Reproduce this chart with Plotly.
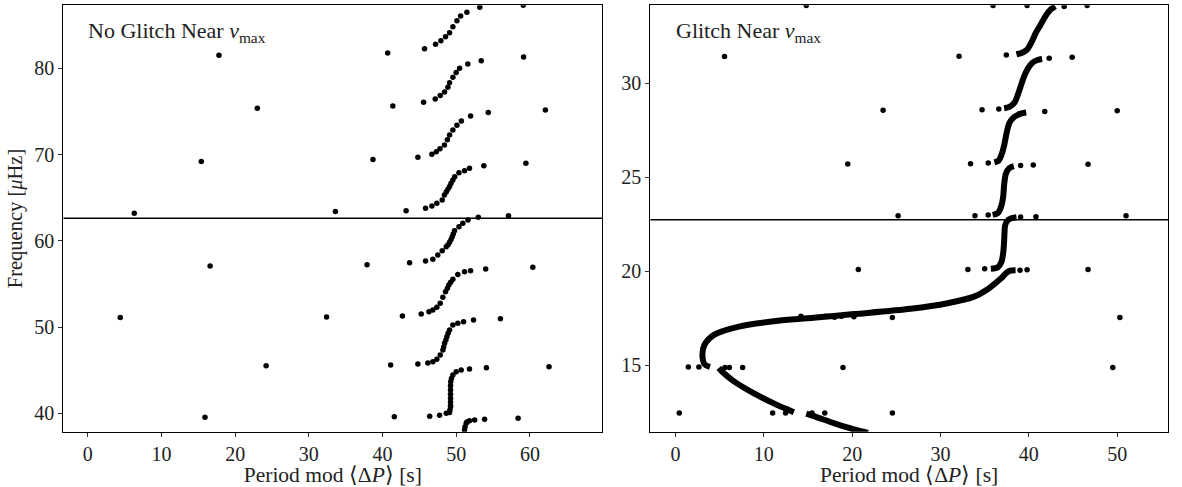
import plotly.graph_objects as go

# ---------------- data: left panel (No glitch) ----------------
left_x = [
    # row ~87 / 81.5
    59.1, 53.2, 51.45, 50.6, 50.1, 49.55, 49.1, 48.55, 47.92, 47.2, 45.7, 40.7, 17.8, 59.14,
    # segment 75.5 -> 81
    53.4, 51.58, 50.46, 50.0, 49.55, 49.1, 48.87, 48.42, 47.83, 47.15, 45.57, 41.4, 23.0, 62.1,
    # segment 69.7 -> 74.8
    54.35, 51.95, 50.7, 50.1, 49.55, 49.1, 48.8, 48.4, 47.8, 47.3, 46.7, 44.8, 38.7, 15.4, 59.46,
    # segment 63.5 -> 68.7
    53.75, 51.8, 51.13, 50.37, 49.8, 49.55, 49.3, 49.1, 48.87, 48.65, 48.4, 48.1, 47.37, 46.7, 45.84, 43.2, 33.6, 6.3,
    57.1, 53.0,
    # segment 57.5 -> 62.4
    51.6, 50.9, 50.37, 49.77, 49.6, 49.46, 49.3, 49.1, 48.9, 48.65, 48.1, 47.5, 46.83, 45.84, 43.67, 37.9, 16.6, 60.4,
    # segment 51.5 -> 56.7
    54.0, 51.95, 51.13, 50.22, 49.55, 49.25, 49.0, 48.8, 48.55, 48.19, 47.83, 47.37, 46.83, 46.3, 45.25, 42.7, 32.4, 4.4, 56.0,
    # segment 45.7 -> 50.8
    52.35, 51.0, 50.22, 49.55, 49.1, 48.9, 48.73, 48.6, 48.42, 48.3, 48.19, 47.83, 47.37, 46.83, 46.15, 44.8, 41.1, 24.2, 62.6, 54.1,
    # segment 39.7 -> 45.1
    51.8, 50.68, 50.0, 49.55, 49.35, 49.25, 49.23, 49.23, 49.23, 49.23, 49.23, 49.23, 49.23, 49.15, 49.1, 48.65, 47.74, 46.4, 41.6, 15.9,
    52.5, 53.85, 58.4,
    # bottom segment
    51.8, 51.45, 51.36, 51.2, 51.13,
]
left_y = [
    87.3, 87.07, 86.5, 86.06, 85.5, 84.82, 84.13, 83.66, 83.2, 82.78, 82.27, 81.76, 81.5, 81.31,
    80.88, 80.5, 80.0, 79.5, 78.95, 78.33, 77.8, 77.25, 76.83, 76.44, 76.06, 75.63, 75.36, 75.16,
    74.86, 74.47, 73.9, 73.4, 72.85, 72.27, 71.7, 71.1, 70.68, 70.33, 70.03, 69.68, 69.43, 69.2, 68.99,
    68.7, 68.4, 68.13, 67.9, 67.43, 67.05, 66.67, 66.3, 65.97, 65.65, 65.3, 64.73, 64.35, 64.04, 63.77, 63.49, 63.4, 63.2,
    62.9, 62.72,
    62.41, 62.03, 61.63, 61.17, 60.8, 60.47, 60.15, 59.83, 59.55, 59.32, 58.85, 58.35, 57.85, 57.66, 57.46, 57.23, 57.07, 56.93,
    56.73, 56.53, 56.42, 56.1, 55.53, 55.2, 54.87, 54.5, 54.1, 53.45, 52.75, 52.29, 51.98, 51.78, 51.5, 51.28, 51.18, 51.1, 50.97,
    50.82, 50.62, 50.43, 50.24, 49.66, 49.27, 48.88, 48.5, 48.12, 47.7, 47.34, 46.76, 46.26, 45.98, 45.83, 45.72, 45.59, 45.51, 45.4, 45.29,
    45.14, 45.02, 44.82, 44.44, 44.05, 43.66, 43.2, 42.7, 42.2, 41.74, 41.3, 40.9, 40.77, 40.4, 40.1, 40.0, 39.77, 39.65, 39.61, 39.54,
    39.23, 39.3, 39.42,
    39.14, 38.98, 38.84, 38.45, 38.07,
]

# ---------------- data: right panel (Glitch) ----------------
# isolated modes
right_x = [
    14.8, 35.95, 39.8, 44.0, 46.6,
    5.55, 32.1, 37.45, 42.3, 44.9,
    23.5, 34.7, 36.6, 41.8, 50.0,
    19.5, 33.4, 35.4, 39.07, 40.5, 46.7,
    25.2, 33.9, 35.4, 39.07, 40.8, 51.0,
    20.7, 33.1, 35.0, 39.0, 39.8, 46.7,
    14.2, 17.0, 18.0, 18.8, 20.2, 24.55, 50.3,
    1.45, 2.65, 5.6, 6.1, 7.6, 18.96, 49.5,
    0.43, 11.0, 12.47, 15.45, 16.9, 24.55,
]
right_y = [
    34.15, 34.15, 34.15, 34.1, 34.15,
    31.43, 31.45, 31.52, 31.34, 31.4,
    28.57, 28.6, 28.64, 28.5, 28.54,
    25.71, 25.73, 25.77, 25.63, 25.66, 25.7,
    22.95, 22.96, 23.0, 22.89, 22.9, 22.95,
    20.09, 20.1, 20.14, 20.05, 20.08, 20.09,
    17.6, 17.6, 17.55, 17.6, 17.58, 17.54, 17.54,
    14.91, 14.91, 14.88, 14.88, 14.88, 14.88, 14.88,
    12.46, 12.46, 12.46, 12.46, 12.46, 12.46,
]
# densely sampled mixed-mode branches (read as polylines)
curve_x = [
    38.6, 39.3, 39.8, 40.3, 40.8, 41.3, 41.9, 42.5, 43.0, None,
    37.2, 37.8, 38.4, 38.9, 39.4, 39.9, 40.4, 41.0, 41.5, None,
    36.1, 36.6, 36.9, 37.2, 37.5, 37.8, 38.3, 39.0, 39.7, None,
    35.9, 36.5, 36.9, 37.1, 37.2, 37.4, 37.8, 38.3, None,
    35.7, 36.5, 36.9, 37.1, 37.2, 37.25, 37.3, 37.5, 38.0, 38.6, None,
    38.5, 37.7, 36.8, 35.5, 33.8, 30.8, 26.6, 20.2, 15.9, 11.6, 7.3, 4.4, 3.3, 3.05, 3.3, 3.9, None,
    4.9, 5.3, 6.5, 9.0, 11.6, 12.9, 13.4, None,
    14.8, 15.9, 18.0, 20.2, 21.8,
]
curve_y = [
    31.55, 31.65, 31.8, 32.2, 32.7, 33.1, 33.6, 33.95, 34.1, None,
    28.68, 28.75, 29.0, 29.6, 30.3, 30.8, 31.1, 31.25, 31.3, None,
    25.8, 25.9, 26.2, 26.7, 27.4, 27.9, 28.2, 28.38, 28.45, None,
    23.0, 23.1, 23.5, 24.0, 24.6, 25.2, 25.5, 25.6, None,
    20.14, 20.22, 20.5, 21.0, 21.6, 22.1, 22.4, 22.65, 22.82, 22.88, None,
    20.05, 20.0, 19.6, 19.1, 18.65, 18.3, 18.0, 17.72, 17.54, 17.37, 17.07, 16.63, 16.1, 15.58, 15.05, 14.91, None,
    14.85, 14.65, 14.18, 13.47, 12.86, 12.6, 12.5, None,
    12.42, 12.25, 11.9, 11.58, 11.4,
]

numax_left = 62.6
numax_right = 22.75

left_xticks = [0, 10, 20, 30, 40, 50, 60]
left_yticks = [40, 50, 60, 70, 80]
right_xticks = [0, 10, 20, 30, 40, 50]
right_yticks = [15, 20, 25, 30]

FONT = "Liberation Serif"
LX = [-3.33, 69.83]
RX = [-2.85, 55.75]

fig = go.Figure()
fig.add_trace(go.Scatter(x=left_x, y=left_y, mode="markers",
                         marker=dict(color="black", size=5.5), xaxis="x", yaxis="y",
                         showlegend=False))
fig.add_trace(go.Scatter(x=curve_x, y=curve_y, mode="lines",
                         line=dict(color="black", width=6, shape="spline", smoothing=0.8),
                         xaxis="x2", yaxis="y2", connectgaps=False, showlegend=False))
fig.add_trace(go.Scatter(x=right_x, y=right_y, mode="markers",
                         marker=dict(color="black", size=5.5), xaxis="x2", yaxis="y2",
                         showlegend=False))

# nu_max lines
fig.add_trace(go.Scatter(x=LX, y=[numax_left, numax_left], mode="lines",
                         line=dict(color="black", width=1.5), xaxis="x", yaxis="y", showlegend=False))
fig.add_trace(go.Scatter(x=RX, y=[numax_right, numax_right], mode="lines",
                         line=dict(color="black", width=1.5), xaxis="x2", yaxis="y2", showlegend=False))

axis_common = dict(showline=True, linecolor="black", linewidth=1, mirror=True,
                   ticks="outside", ticklen=4, tickcolor="#333", tickwidth=1,
                   showgrid=False, zeroline=False,
                   tickfont=dict(family=FONT, size=20, color="#222"))
xtitle = dict(text="Period mod ⟨Δ<i>P</i>⟩ [s]", font=dict(family=FONT, size=21.5, color="#222"), standoff=5)

fig.update_layout(
    width=1182, height=487,
    margin=dict(l=0, r=0, t=0, b=0),
    plot_bgcolor="white", paper_bgcolor="white",
    xaxis=dict(domain=[63.3 / 1182, 602.3 / 1182], range=LX,
               tickvals=left_xticks, anchor="y", title=xtitle, **axis_common),
    yaxis=dict(domain=[1 - 431.7 / 487, 1 - 5.3 / 487], range=[37.87, 87.3],
               tickvals=left_yticks, anchor="x",
               title=dict(text="Frequency [<i>μ</i>Hz]", font=dict(family=FONT, size=20.5, color="#222"), standoff=6),
               **axis_common),
    xaxis2=dict(domain=[650.3 / 1182, 1168 / 1182], range=RX,
                tickvals=right_xticks, anchor="y2", title=xtitle, **axis_common),
    yaxis2=dict(domain=[1 - 431.7 / 487, 1 - 5.3 / 487], range=[11.46, 34.16],
                tickvals=right_yticks, anchor="x2", **axis_common),
    annotations=[
        dict(text="No Glitch Near <i>ν</i><sub>max</sub>", xref="paper", yref="paper",
             x=86 / 1182, y=1 - 16 / 487, xanchor="left", yanchor="top", showarrow=False,
             font=dict(family=FONT, size=22, color="#222")),
        dict(text="Glitch Near <i>ν</i><sub>max</sub>", xref="paper", yref="paper",
             x=674 / 1182, y=1 - 16 / 487, xanchor="left", yanchor="top", showarrow=False,
             font=dict(family=FONT, size=22, color="#222")),
    ],
)

fig.write_html("out.html")
